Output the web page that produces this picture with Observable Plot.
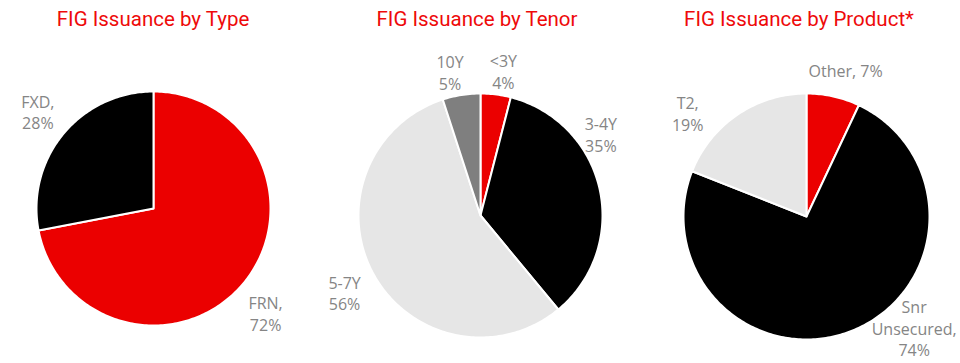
<!DOCTYPE html>
<html>
<head>
<meta charset="utf-8">
<script src="https://cdn.jsdelivr.net/npm/d3@7"></script>
<script src="https://cdn.jsdelivr.net/npm/@observablehq/plot@0.6"></script>
<style>
  html, body { margin: 0; padding: 0; background: #fff; }
  #wrap { display: flex; width: 960px; height: 363px; overflow: hidden; }
  .panel { width: 320px; position: relative; }
  .title { height: 40px; font-family: Roboto, "Noto Sans", sans-serif; font-weight: 400; font-size: 20.5px; color: #ee0a0a; white-space: nowrap; position: relative; }
  .title span { position: absolute; top: 7px; transform: translateX(-50%); }
  .panel svg { overflow: visible; display: block; }
</style>
</head>
<body>
<div id="wrap"></div>
<script>
// ---- data ----
const titles = ["FIG Issuance by Type", "FIG Issuance by Tenor", "FIG Issuance by Product*"];

const typeCategories = ["FRN", "FXD"];
const typeValues = [72, 28];
const typeLabels = ["FRN,\n72%", "FXD,\n28%"];

const tenorCategories = ["<3Y", "3-4Y", "5-7Y", "10Y"];
const tenorValues = [4, 35, 56, 5];
const tenorLabels = ["<3Y\n4%", "3-4Y\n35%", "5-7Y\n56%", "10Y\n5%"];

const productCategories = ["Other", "Snr Unsecured", "T2"];
const productValues = [7, 74, 19];
const productLabels = ["Other, 7%", "Snr\nUnsecured,\n74%", "T2,\n19%"];

// ---- styles / layout ----
const RED = "#eb0000", BLACK = "#000000", LIGHT = "#e6e6e6", MID = "#7f7f7f";
const charts = [
  {cats: typeCategories, vals: typeValues, labels: typeLabels, colors: [RED, BLACK],
   cx: 153, cy: 168, r: 117, titleX: 153,
   labelPos: {"FRN": [133, 1.31], "FXD": [310, 1.29]}},
  {cats: tenorCategories, vals: tenorValues, labels: tenorLabels, colors: [RED, BLACK, LIGHT, MID],
   cx: 160, cy: 175, r: 122, titleX: 157,
   labelPos: {"<3Y": [9, 1.2], "3-4Y": [56, 1.19], "5-7Y": [240.5, 1.28], "10Y": [348, 1.2]}},
  {cats: productCategories, vals: productValues, labels: productLabels, colors: [RED, BLACK, LIGHT],
   cx: 166, cy: 176, r: 123, titleX: 159,
   labelPos: {"Other": [15, 1.23], "Snr Unsecured": [136, 1.26], "T2": [311, 1.28]}}
];

const wrap = document.getElementById("wrap");
charts.forEach((c, i) => {
  const total = d3.sum(c.vals);
  const table = c.cats.map((k, j) => ({cat: k, value: c.vals[j], label: c.labels[j]}));
  let acc = 0;
  const slices = table.map(d => {
    const a0 = acc / total * 360;
    acc += d.value;
    const a1 = acc / total * 360;
    return {...d, a0, a1};
  });
  const pts = [];
  for (const s of slices) {
    pts.push({cat: s.cat, x: 0, y: 0});
    const n = Math.max(2, Math.ceil(s.a1 - s.a0));
    for (let k = 0; k <= n; k++) {
      const a = (s.a0 + (s.a1 - s.a0) * k / n) * Math.PI / 180;
      pts.push({cat: s.cat, x: Math.sin(a), y: Math.cos(a)});
    }
  }
  const labs = slices.map(s => {
    const [ang, rf] = c.labelPos[s.cat] || [(s.a0 + s.a1) / 2, 1.26];
    const a = ang * Math.PI / 180;
    return {label: s.label, x: rf * Math.sin(a), y: rf * Math.cos(a)};
  });

  const panel = document.createElement("div");
  panel.className = "panel";
  const t = document.createElement("div");
  t.className = "title";
  const sp = document.createElement("span");
  sp.style.left = c.titleX + "px";
  sp.textContent = titles[i];
  t.appendChild(sp);
  panel.appendChild(t);

  const plot = Plot.plot({
    width: 320,
    height: 323,
    margin: 0,
    style: {background: "transparent", overflow: "visible"},
    x: {domain: [-1, 1], range: [c.cx - c.r, c.cx + c.r], axis: null},
    y: {domain: [-1, 1], range: [c.cy + c.r, c.cy - c.r], axis: null},
    color: {domain: c.cats, range: c.colors},
    marks: [
      Plot.line(pts, {x: "x", y: "y", z: "cat", fill: "cat", stroke: "white", strokeWidth: 2, curve: "linear-closed", strokeLinejoin: "round"}),
      Plot.text(labs, {x: "x", y: "y", text: "label", fill: "#858585", fontSize: 16, lineHeight: 1.35, fontFamily: "'Open Sans', Lato, sans-serif", fontWeight: 400, textAnchor: "middle"})
    ]
  });
  panel.appendChild(plot);
  wrap.appendChild(panel);
});
</script>
</body>
</html>
